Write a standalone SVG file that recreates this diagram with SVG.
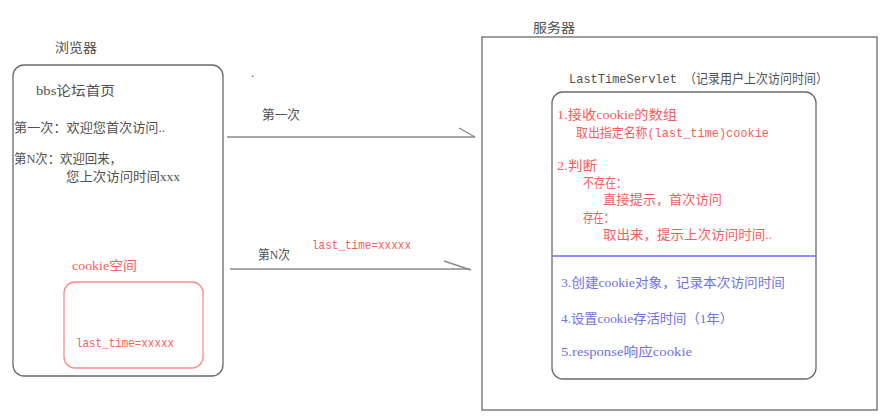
<svg xmlns="http://www.w3.org/2000/svg" width="884" height="420" viewBox="0 0 884 420">
<style>
text{font-family:"Liberation Serif","Noto Sans CJK SC",serif;font-size:13px;fill:#505050}
.m{font-family:"Liberation Mono","Noto Sans CJK SC",monospace}
.r{fill:#ff5a5a}
.b{fill:#7070e8}
.box{fill:none;stroke:#6a6a6a;stroke-width:1.3}
.line{fill:none;stroke:#8a8a8a;stroke-width:1.4}
</style>
<rect width="884" height="420" fill="#fff"/>
<g id="browser">
<text x="55" y="52" textLength="42" lengthAdjust="spacingAndGlyphs">浏览器</text>
<rect class="box" x="13" y="65" width="210" height="311" rx="11"/>
<text x="36" y="95" textLength="79" lengthAdjust="spacingAndGlyphs">bbs论坛首页</text>
<text x="14" y="132" textLength="151" lengthAdjust="spacingAndGlyphs">第一次：欢迎您首次访问..</text>
<text x="14" y="163" textLength="108" lengthAdjust="spacingAndGlyphs">第N次：欢迎回来，</text>
<text x="66" y="181" textLength="114" lengthAdjust="spacingAndGlyphs">您上次访问时间xxx</text>
</g>
<g id="cookie-space">
<text class="r" x="72" y="270" textLength="65" lengthAdjust="spacingAndGlyphs">cookie空间</text>
<rect x="64" y="282" width="139" height="86" rx="11" fill="none" stroke="#ff8a8a" stroke-width="1.3"/>
<text class="r m" x="76" y="347" textLength="98" lengthAdjust="spacingAndGlyphs">last_time=xxxxx</text>
</g>
<text x="251" y="77" font-size="10">.</text>
<g id="connectors">
<line class="line" x1="227" y1="137" x2="475" y2="137"/>
<line class="line" x1="459" y1="128" x2="475" y2="137"/>
<text x="262" y="119" textLength="38" lengthAdjust="spacingAndGlyphs">第一次</text>
<line class="line" x1="230" y1="269" x2="470" y2="269"/>
<line class="line" x1="444" y1="261" x2="471" y2="270"/>
<text x="258" y="259" textLength="32" lengthAdjust="spacingAndGlyphs">第N次</text>
<text class="r m" x="312" y="249" textLength="99" lengthAdjust="spacingAndGlyphs">last_time=xxxxx</text>
</g>
<g id="server">
<text x="533" y="32" textLength="42" lengthAdjust="spacingAndGlyphs">服务器</text>
<rect class="box" x="482" y="37" width="395" height="373"/>
<text class="m" x="569" y="83" textLength="259" lengthAdjust="spacingAndGlyphs" fill="#333">LastTimeServlet （记录用户上次访问时间）</text>
</g>
<g id="servlet">
<rect class="box" x="552" y="92" width="264" height="287" rx="11"/>
<line x1="552" y1="256" x2="816" y2="256" stroke="#6a6aff" stroke-width="1.3"/>
<text class="r" x="557" y="119" textLength="120" lengthAdjust="spacingAndGlyphs">1.接收cookie的数组</text>
<text class="r m" x="576" y="137" textLength="193" lengthAdjust="spacingAndGlyphs">取出指定名称(last_time)cookie</text>
<text class="r" x="557" y="170" textLength="40" lengthAdjust="spacingAndGlyphs">2.判断</text>
<text class="r" x="583" y="187" textLength="44" lengthAdjust="spacingAndGlyphs">不存在：</text>
<text class="r" x="603" y="204" textLength="119" lengthAdjust="spacingAndGlyphs">直接提示，首次访问</text>
<text class="r" x="583" y="222" textLength="31" lengthAdjust="spacingAndGlyphs">存在：</text>
<text class="r" x="603" y="239" textLength="169" lengthAdjust="spacingAndGlyphs">取出来，提示上次访问时间..</text>
<text class="b" x="561" y="287" textLength="224" lengthAdjust="spacingAndGlyphs">3.创建cookie对象，记录本次访问时间</text>
<text class="b" x="561" y="323" textLength="172" lengthAdjust="spacingAndGlyphs">4.设置cookie存活时间（1年）</text>
<text class="b" x="561" y="356" textLength="131" lengthAdjust="spacingAndGlyphs">5.response响应cookie</text>
</g>
</svg>
